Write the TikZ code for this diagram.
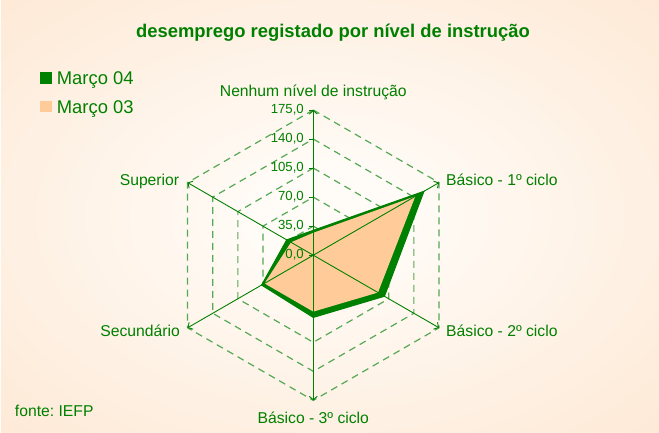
\documentclass[tikz,border=0pt]{standalone}
\usepackage{fontspec}
\setmainfont{Liberation Sans}
\usetikzlibrary{positioning,arrows.meta}
\frenchspacing

\definecolor{chartgreen}{RGB}{0,128,0}
\definecolor{gridgreen}{RGB}{85,168,85}
\definecolor{peach}{RGB}{255,204,153}
\definecolor{bgouter}{RGB}{253,226,201}
\definecolor{bginner}{RGB}{255,251,246}
\pgfdeclareradialshading{peachglow}{\pgfpoint{0bp}{0bp}}{color(0bp)=(bginner); color(6bp)=(bginner); color(48bp)=(bgouter); color(80bp)=(bgouter)}

\begin{document}
\begin{tikzpicture}[
    x=1pt, y=1pt,
    text=chartgreen,
    catlabel/.style={font=\fontsize{15.7}{18}\selectfont, inner sep=0pt},
    ticklabel/.style={font=\fontsize{13.2}{15}\selectfont, anchor=base east, inner sep=0pt},
    legendbox/.style={rectangle, minimum size=11.7pt, inner sep=0pt},
    legendtext/.style={font=\fontsize{18.4}{21}\selectfont, anchor=base west, inner sep=0pt},
    gridline/.style={gridgreen, line width=1.2pt, dash pattern=on 7pt off 5pt},
    axisline/.style={chartgreen, line width=0.9pt, -{Straight Barb[length=3.5pt,width=8pt]}}
]

% Background
\useasboundingbox (0,0) rectangle (659,432);
\shade[shading=peachglow] (0.8,0) rectangle (659,431);

% Title and legend
\node (title) [font=\fontsize{18.4}{21}\selectfont\bfseries, anchor=base, inner sep=0pt] at (333,394.3) {desemprego registado por nível de instrução};
\node (box04) [legendbox, fill=chartgreen] at (45.8,353.8) {};
\node (txt04) [legendtext] at (56.7,347) {Março 04};
\node (box03) [legendbox, fill=peach] at (45.8,325.5) {};
\node (txt03) [legendtext] at (56.7,318.7) {Março 03};
\node (source) [catlabel, anchor=base west] at (14.8,15.3) {fonte: IEFP};

% Radar chart, one unit = one value of the scale
\begin{scope}[shift={(313.3,176.8)}, x=0.8297pt, y=0.8297pt]
  \coordinate (c) at (0,0);
  \coordinate (nenhum) at (90:175);
  \coordinate (bas1) at (30:175);
  \coordinate (bas2) at (-30:175);
  \coordinate (bas3) at (-90:175);
  \coordinate (sec) at (210:175);
  \coordinate (sup) at (150:175);

  % grid rings
  \foreach \lvl in {35,70,...,175}
    \draw[gridline] (90:\lvl) -- (30:\lvl) -- (-30:\lvl) -- (-90:\lvl) -- (210:\lvl) -- (150:\lvl) -- cycle;

  % series
  \filldraw[fill=chartgreen, draw=chartgreen, line width=1pt] (90:30) -- (30:154) -- (-30:99) -- (-90:75) -- (210:72) -- (150:37) -- cycle;
  \fill[peach] (90:27) -- (30:142) -- (-30:90) -- (-90:68) -- (210:68) -- (150:31) -- cycle;

  % axes
  \foreach \nm in {nenhum,bas1,bas2,bas3,sec,sup}
    \draw[axisline] (c) -- (\nm);

  % value scale
  \foreach \lvl in {0,35,...,175} {
    \draw[chartgreen, line width=0.8pt] (0,\lvl) -- ++(-4pt,0);
    \node (tick\lvl) [ticklabel, xshift=-9.3pt, yshift=-3.5pt] at (0,\lvl) {\lvl,0};
  }

  % category labels
  \node (lblnenhum) [catlabel, anchor=base, yshift=13.3pt] at (nenhum) {Nenhum nível de instrução};
  \node (lblbas1) [catlabel, anchor=base west, xshift=7pt, yshift=-2.4pt] at (bas1) {Básico - 1º ciclo};
  \node (lblbas2) [catlabel, anchor=base west, xshift=7pt, yshift=-8.2pt] at (bas2) {Básico - 2º ciclo};
  \node (lblbas3) [catlabel, anchor=base, yshift=-22.8pt] at (bas3) {Básico - 3º ciclo};
  \node (lblsec) [catlabel, anchor=base east, xshift=-7.5pt, yshift=-8.2pt] at (sec) {Secundário};
  \node (lblsup) [catlabel, anchor=base east, xshift=-8.2pt, yshift=-2.4pt] at (sup) {Superior};
\end{scope}

\end{tikzpicture}
\end{document}
